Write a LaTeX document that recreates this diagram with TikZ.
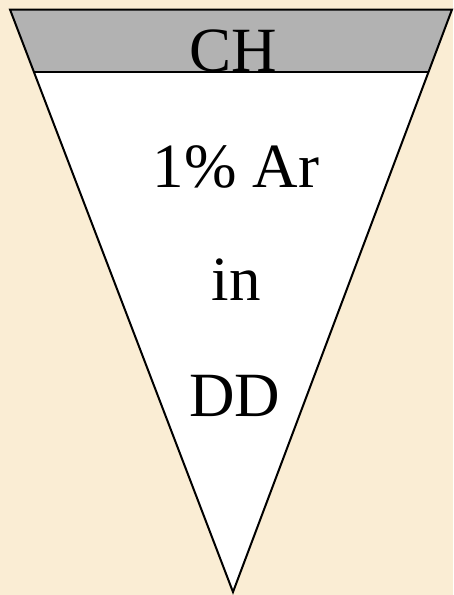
\documentclass[tikz,border=0pt]{standalone}
\usepackage{fontspec}
\setmainfont{Liberation Serif}
\usepackage{tikz}
\usetikzlibrary{positioning}
\definecolor{parchment}{RGB}{250,237,212}
\definecolor{bandgray}{RGB}{178,178,178}
\tikzstyle{gastext}=[font=\fontsize{63}{76}\selectfont, anchor=base,
        inner sep=0pt, outer sep=0pt]
\tikzstyle{edge}=[draw=black, line width=2pt, line join=miter]

\begin{document}
\begin{tikzpicture}[x=1pt, y=-1pt]
        \fill[parchment] (0,0) rectangle (453,595);
        \useasboundingbox (0,0) rectangle (453,595);

        \coordinate (tl) at (10,9.5);
        \coordinate (tr) at (452,9.5);
        \coordinate (tip) at (233,592);

        % white body and grey band
        \fill[white] (tl) -- (tr) -- (tip) -- cycle;
        \begin{scope}
            \clip (tl) -- (tr) -- (tip) -- cycle;
            \fill[bandgray] (0,9.5) rectangle (453,72);
            \draw[line width=2pt] (0,72) -- (453,72);
        \end{scope}
        \draw[edge] (tl) -- (tr) -- (tip) -- cycle;

        \node[gastext] (ch) at (233,71) {CH};
        \node[gastext] (ar) at (236,187) {1\% Ar};
        \node[gastext] (in) at (236,300) {in};
        \node[gastext] (dd) at (235,416) {DD};
    \end{tikzpicture}
\end{document}
